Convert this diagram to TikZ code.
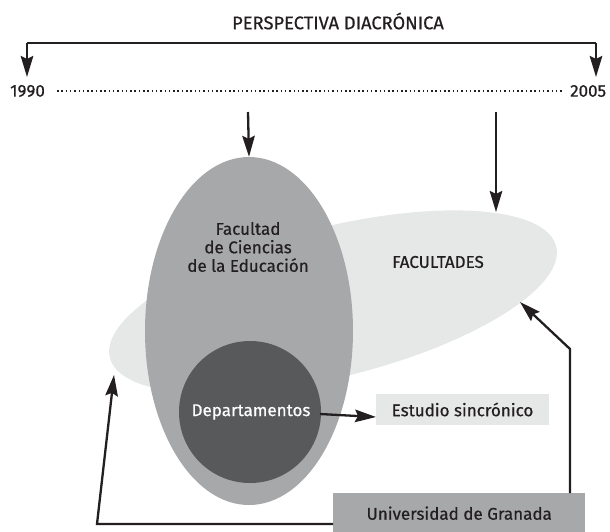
\documentclass[tikz,border=0pt]{standalone}
\usepackage{fontspec}
\setmainfont[FakeBold=0.6]{Fira Sans}
\usetikzlibrary{arrows.meta,shapes.geometric}
\definecolor{lightg}{HTML}{E6E7E7}
\definecolor{midg}{HTML}{A7A8AA}
\definecolor{darkg}{HTML}{58595B}
\definecolor{ink}{HTML}{231F20}
\tikzset{
  conn/.style={draw=ink, line width=2.3pt, -{Stealth[length=21pt,width=12.5pt,inset=3pt]}},
  plain/.style={draw=ink, line width=2.3pt},
  lbl/.style={text=ink, font=\fontsize{17}{18.5}\selectfont, inner sep=0pt},
}
\begin{document}
\begin{tikzpicture}[x=1pt,y=-1pt]
\useasboundingbox (0,0) rectangle (610,531);
% shapes
\node[ellipse, fill=lightg, minimum width=460, minimum height=150, inner sep=0pt, rotate=14] (fac) at (333,302) {};
\node[ellipse, fill=midg, minimum width=208, minimum height=348, inner sep=0pt] (fce) at (249,331) {};
\node[circle, fill=darkg, minimum size=142, inner sep=0pt] (dep) at (250,412) {};
% texts
\node[lbl, font=\fontsize{18.3}{20}\selectfont] (title) at (338,21) {PERSPECTIVA DIACRÓNICA};
\node[lbl, anchor=west] (y1990) at (10,91) {1990};
\node[lbl, anchor=west] (y2005) at (570,91) {2005};
\node[lbl, align=center] (fcet) at (248,247) {Facultad\\de Ciencias\\de la Educación};
\node[lbl] (fact) at (438,262) {FACULTADES};
\node[lbl, text=white] (dept) at (251,412) {Departamentos};
\node[lbl, fill=lightg, minimum width=173, minimum height=31] (est) at (462.5,409.5) {Estudio sincrónico};
\node[lbl, fill=midg, minimum width=252, minimum height=40, anchor=north west] (uni) at (333,493) {\raisebox{-3pt}{Universidad de Granada}};
% connectors
\coordinate (bl) at (27,43);
\coordinate (br) at (596,43);
\coordinate (tl) at (27,77);
\coordinate (tr) at (596,77);
\draw[plain] (bl) -- (br);
\draw[conn] (bl) -- (tl);
\draw[conn] (br) -- (tr);
\coordinate (d1) at (57,91);
\coordinate (d2) at (562,91);
\draw[draw=ink, line width=1.5pt, dash pattern=on 1.5pt off 2.8pt] (d1) -- (d2);
\coordinate (a1) at (248,112);
\draw[conn] (a1) -- (fce.north);
\coordinate (a2) at (496,112);
\coordinate (a2e) at (496,212);
\draw[conn] (a2) -- (a2e);
\coordinate (dx) at (320,414);
\coordinate (ex) at (376,417);
\draw[conn] (dx) -- (ex);
\coordinate (lc) at (97,524);
\coordinate (lt) at (114,375);
\draw[conn, line join=miter] (uni.west |- lc) -- (lc) -- (lt);
\coordinate (rc) at (570,349);
\coordinate (rt) at (520,302);
\draw[conn, line join=miter] (uni.north -| rc) -- (rc) -- (rt);
\end{tikzpicture}
\end{document}
